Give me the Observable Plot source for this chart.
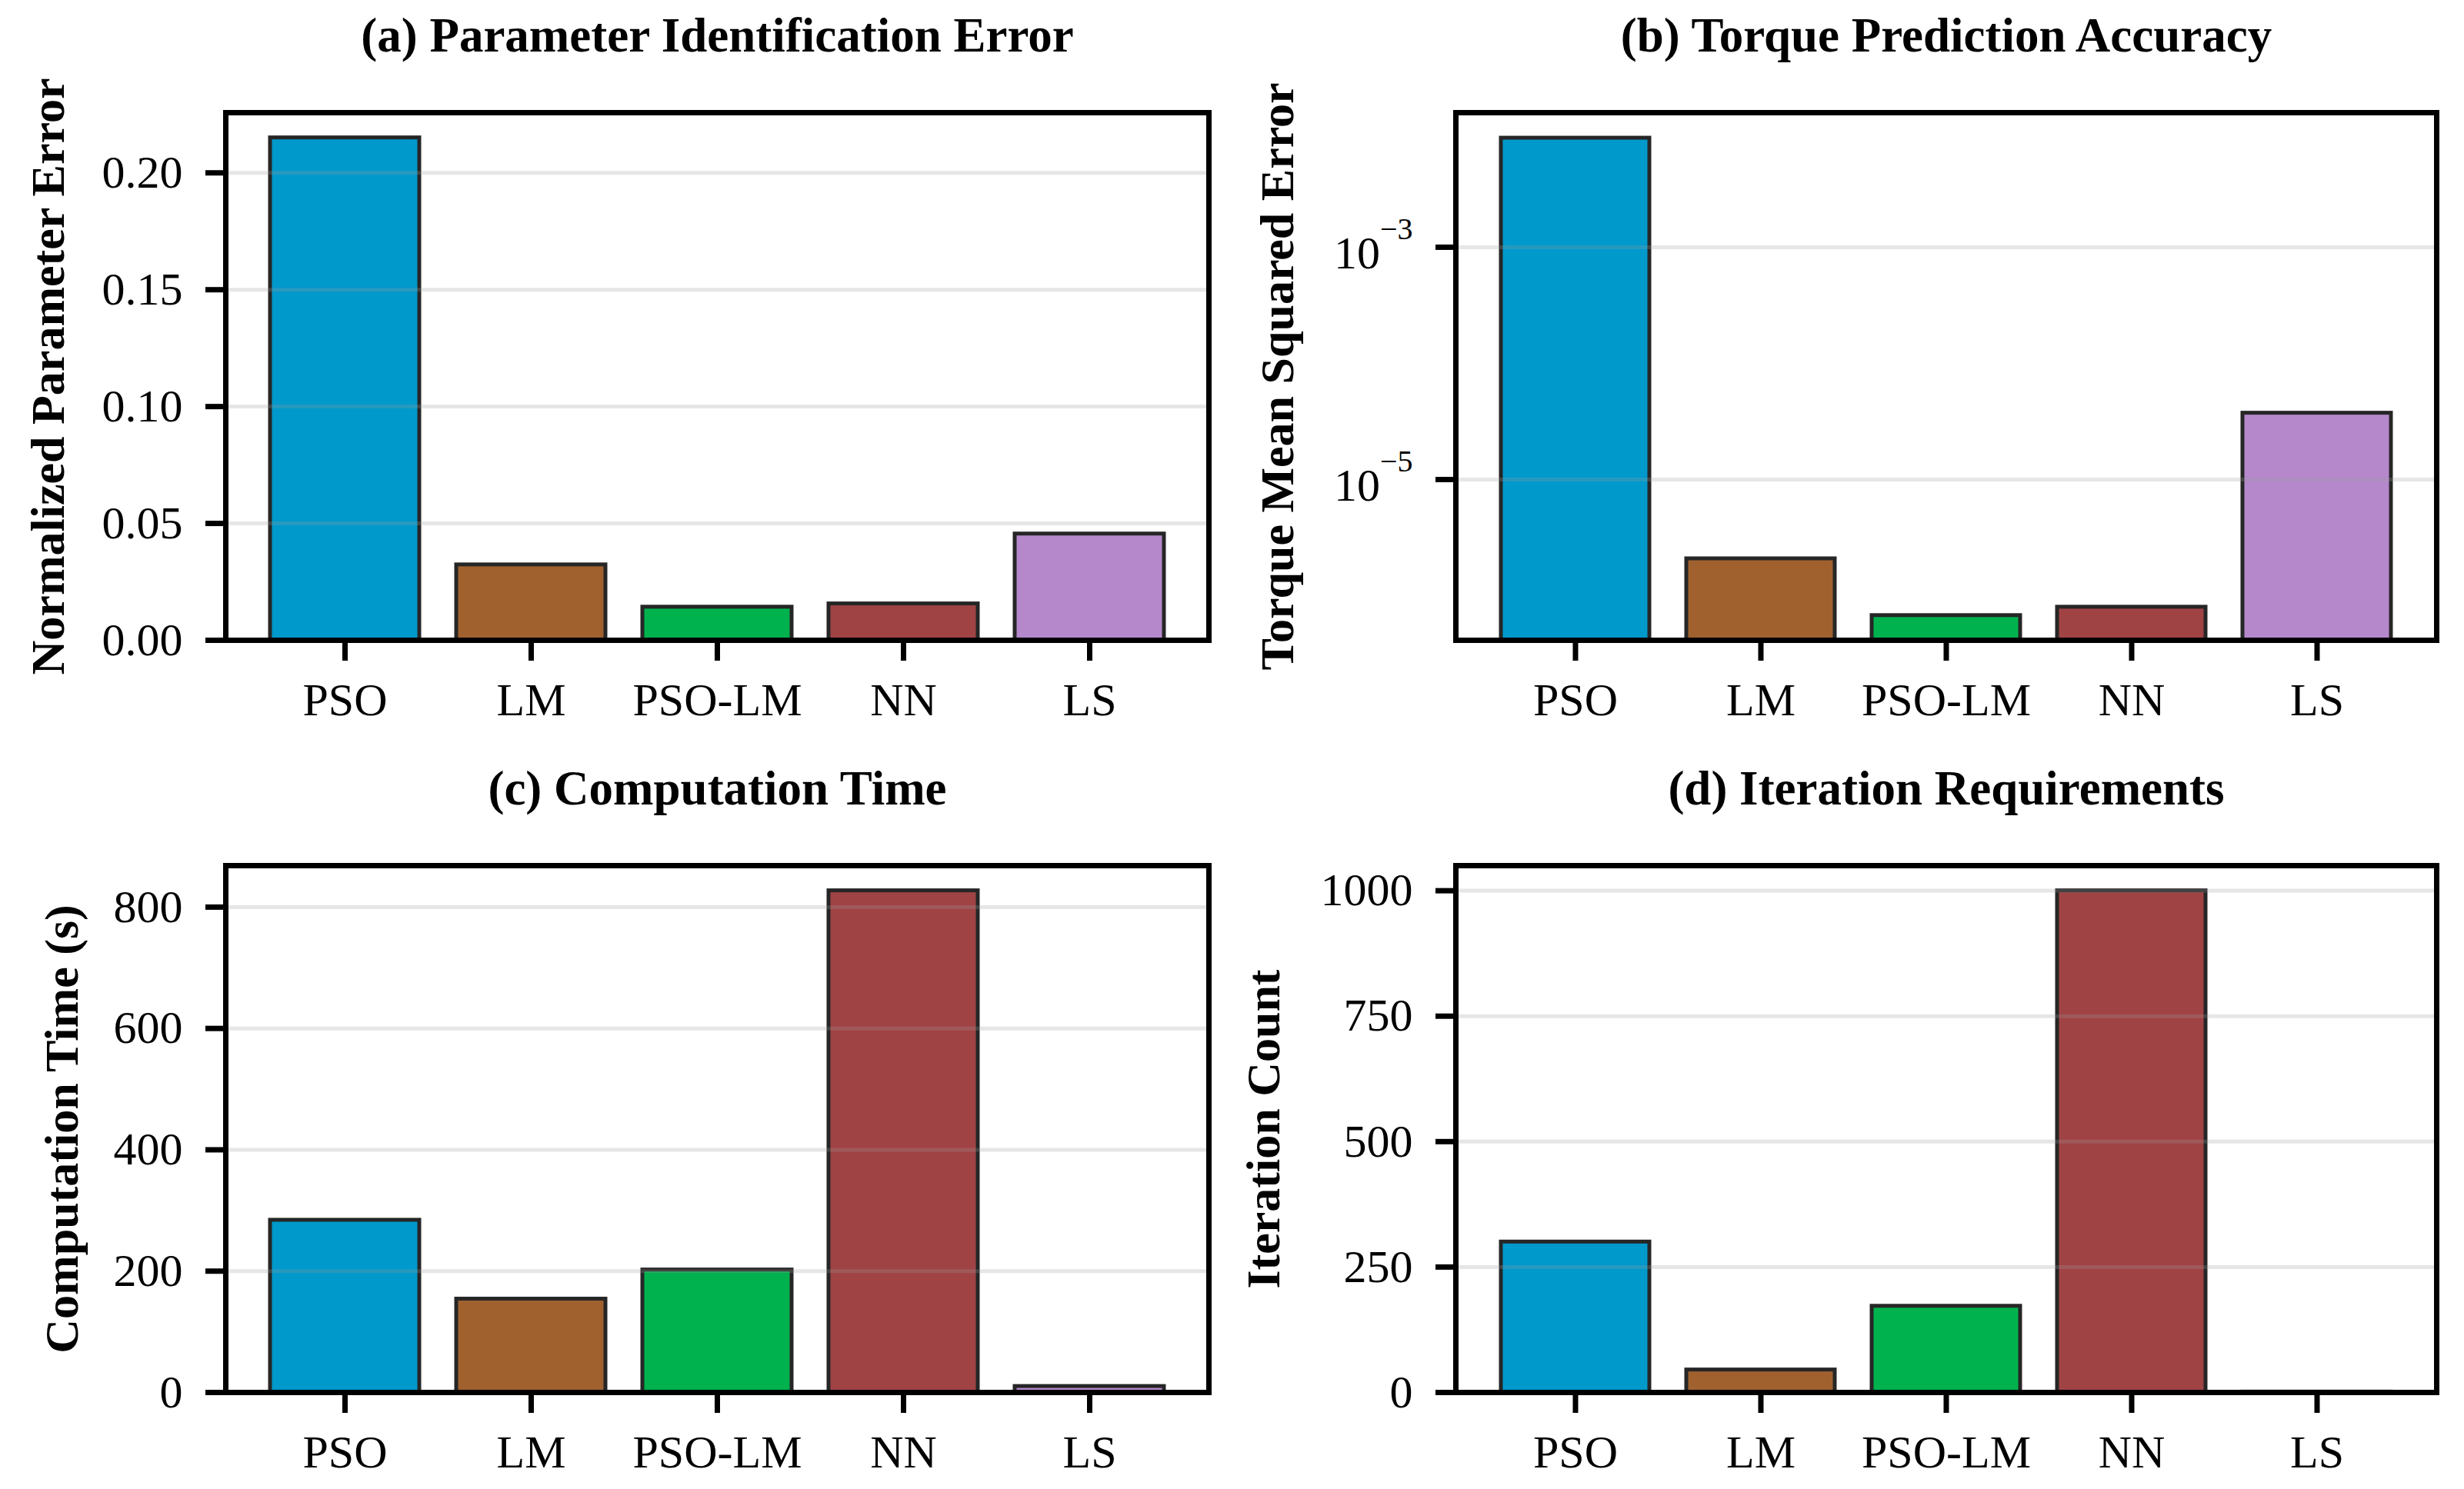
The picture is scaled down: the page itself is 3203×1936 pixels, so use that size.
<!DOCTYPE html>
<html><head><meta charset="utf-8">
<script src="https://cdn.jsdelivr.net/npm/d3@7"></script>
<script src="https://cdn.jsdelivr.net/npm/@observablehq/plot@0.6"></script>
<style>
html,body{margin:0;padding:0;background:#fff;}
#fig{position:relative;width:3203px;height:1936px;background:#fff;overflow:hidden;}
.panel{position:absolute;}
</style></head><body><div id="fig"></div>
<script>
// ---- data ----
const methods = ["PSO", "LM", "PSO-LM", "NN", "LS"];
const barColors = ["#0099cb", "#a0612f", "#00b24e", "#a04345", "#b588cc"];
const paramError = [0.215, 0.0323, 0.0142, 0.0156, 0.0455];
const torqueMSE = [8.7e-3, 2.08e-6, 6.75e-7, 7.97e-7, 3.73e-5];
const torqueFloor = 4.13e-7;
const torqueTop = 1.44e-2;
const compTime = [284, 154, 202, 827, 10];
const iterations = [300, 45, 172, 1000, 1];
const paramTicks = [0, 0.05, 0.10, 0.15, 0.20];
const torqueTicks = [1e-3, 1e-5];
const timeTicks = [0, 200, 400, 600, 800];
const iterTicks = [0, 250, 500, 750, 1000];
const titles = ["(a) Parameter Identification Error", "(b) Torque Prediction Accuracy", "(c) Computation Time", "(d) Iteration Requirements"];
const yLabels = ["Normalized Parameter Error", "Torque Mean Squared Error", "Computation Time (s)", "Iteration Count"];

const FONT = "'Liberation Serif', 'Times New Roman', serif";

function panel(cfg) {
  const data = methods.map((m, i) => ({method: m, value: cfg.values[i], base: cfg.base ?? 0}));
  const yScale = cfg.log
    ? {type: "log", domain: cfg.domain}
    : {type: "linear", domain: cfg.domain};
  const chart = Plot.plot({
    width: cfg.W, height: cfg.H,
    marginLeft: cfg.mL, marginRight: cfg.mR, marginTop: cfg.mT, marginBottom: cfg.mB,
    style: {fontFamily: FONT, fontSize: "60px", background: "white", overflow: "visible", color: "black"},
    x: {type: "band", domain: methods, paddingInner: 0.2, paddingOuter: 0.24, label: null},
    y: {...yScale, label: null},
    color: {domain: methods, range: barColors},
    marks: [
      Plot.barY(data, {x: "method", y1: "base", y2: "value", fill: "method", stroke: "#262626", strokeWidth: 5}),
      Plot.gridY(cfg.ticks, {stroke: "#9a9a9a", strokeOpacity: 0.25, strokeWidth: 5}),
      Plot.frame({stroke: "black", strokeWidth: 7}),
      Plot.axisY(cfg.ticks, {tickSize: 26, tickPadding: 30, strokeWidth: 7, fontSize: 60, tickFormat: cfg.fmt, label: null}),
      Plot.axisX({tickSize: 27, tickPadding: 28, strokeWidth: 7, fontSize: 60, label: null}),
      Plot.text([cfg.title], {text: d => d, frameAnchor: "top", dy: -80, lineAnchor: "bottom", textAnchor: "middle", fontSize: 63, fontWeight: "bold"}),
      Plot.text([cfg.ylabel], {text: d => d, frameAnchor: "left", rotate: -90, dx: cfg.labelDx, lineAnchor: "bottom", textAnchor: "middle", fontSize: 62, fontWeight: "bold"})
    ]
  });
  if (cfg.log) {
    const ns = "http://www.w3.org/2000/svg";
    chart.querySelectorAll('g[aria-label="y-axis tick label"] text').forEach(t => {
      const s = t.textContent;
      const exp = s.split("^")[1].replace("-", "\u2212");
      t.textContent = "";
      const a = document.createElementNS(ns, "tspan");
      a.textContent = "10"; a.setAttribute("dy", "8");
      const b = document.createElementNS(ns, "tspan");
      b.textContent = exp; b.setAttribute("dy", "-38"); b.setAttribute("font-size", "40");
      t.append(a, b);
    });
  }
  const div = document.createElement("div");
  div.className = "panel";
  div.style.left = cfg.left + "px";
  div.style.top = cfg.top + "px";
  div.appendChild(chart);
  document.getElementById("fig").appendChild(div);
}

panel({values: paramError, domain: [0, 0.215 * 1.05], ticks: paramTicks, fmt: d3.format(".2f"),
  title: titles[0], ylabel: yLabels[0], left: 0, top: 0, W: 1601, H: 968, mL: 293, mR: 30, mT: 146, mB: 136, labelDx: -211});
panel({values: torqueMSE, log: true, base: torqueFloor, domain: [torqueFloor, torqueTop], ticks: torqueTicks,
  fmt: d => "10^" + Math.round(Math.log10(d)),
  title: titles[1], ylabel: yLabels[1], left: 1601, top: 0, W: 1602, H: 968, mL: 291, mR: 36, mT: 146, mB: 136, labelDx: -212});
panel({values: compTime, domain: [0, 827 * 1.05], ticks: timeTicks, fmt: d3.format("d"),
  title: titles[2], ylabel: yLabels[2], left: 0, top: 968, W: 1601, H: 968, mL: 293, mR: 30, mT: 157, mB: 126, labelDx: -193});
panel({values: iterations, domain: [0, 1000 * 1.05], ticks: iterTicks, fmt: d3.format("d"),
  title: titles[3], ylabel: yLabels[3], left: 1601, top: 968, W: 1602, H: 968, mL: 291, mR: 36, mT: 157, mB: 126, labelDx: -230});
</script></body></html>
